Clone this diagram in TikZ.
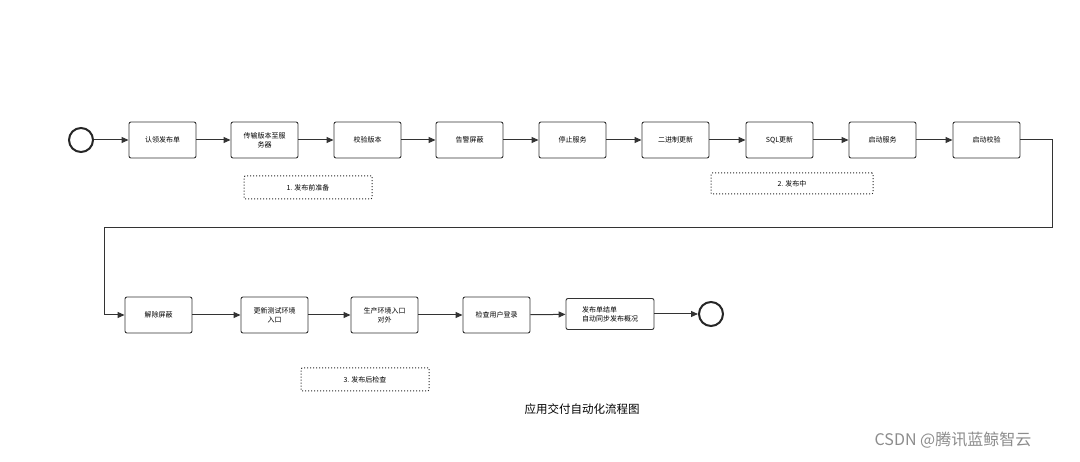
\documentclass[tikz,border=0pt]{standalone}
\usepackage{fontspec}
\newfontfamily\cjk{Noto Sans CJK SC}
\usetikzlibrary{arrows.meta}
\begin{document}
\begin{tikzpicture}[x=1pt,y=-1pt,
  box/.style={draw=black!80,line width=0.9pt,rounded corners=2pt,minimum width=67pt,minimum height=36pt,align=center,font=\cjk\fontsize{7}{9}\selectfont,inner sep=1pt},
  note/.style={draw=black!85,dotted,line width=1pt,rounded corners=1pt,minimum height=23pt,font=\cjk\fontsize{7}{9}\selectfont},
  ev/.style={circle,draw=black!85,line width=2pt,minimum size=24pt,inner sep=0pt},
  arr/.style={draw=black!80,line width=1pt,-{Triangle[length=7pt,width=6pt]}}]
\useasboundingbox (0,0) rectangle (1080,462);
\node[ev] (s) at (81,140) {};
\node[box] (b1) at (162.5,140) {认领发布单};
\node[box] (b2) at (264.5,140) {传输版本至服\\务器};
\node[box] (b3) at (367.5,140) {校验版本};
\node[box] (b4) at (469.5,140) {告警屏蔽};
\node[box] (b5) at (572.5,140) {停止服务};
\node[box] (b6) at (675.5,140) {二进制更新};
\node[box] (b7) at (779.5,140) {SQL更新};
\node[box] (b8) at (882.5,140) {启动服务};
\node[box] (b9) at (986.5,140) {启动校验};
\node[box] (c1) at (158.5,315) {解除屏蔽};
\node[box] (c2) at (274.5,315) {更新测试环境\\入口};
\node[box] (c3) at (384.5,315) {生产环境入口\\对外};
\node[box] (c4) at (496.5,315) {检查用户登录};
\node[box,minimum width=88pt,minimum height=31pt,align=left] (c5) at (610,314) {发布单结单\\自动同步发布概况};
\node[ev] (e) at (711,314) {};
\node[note,minimum width=128pt] (n1) at (308,187.5) {1. 发布前准备};
\node[note,minimum width=162pt,minimum height=21pt] (n2) at (792,183.5) {2. 发布中};
\node[note,minimum width=128pt] (n3) at (365,379.5) {3. 发布后检查};
\node[font=\cjk\fontsize{11.5}{14}\selectfont] (t) at (582,409) {应用交付自动化流程图};
\node[font=\cjk\fontsize{16}{18}\selectfont,text=black!45] (w) at (953,440) {CSDN @腾讯蓝鲸智云};
\draw[arr] (s) -- (b1);
\foreach \a/\b in {b1/b2,b2/b3,b3/b4,b4/b5,b5/b6,b6/b7,b7/b8,b8/b9,c1/c2,c2/c3,c3/c4,c4/c5,c5/e}
  \draw[arr] (\a) -- (\b);
\draw[arr] (b9.east) -- ++(32,0) |- (104,228) |- (c1.west);
\end{tikzpicture}
\end{document}
